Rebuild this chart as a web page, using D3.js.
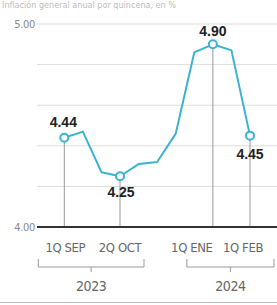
<!DOCTYPE html>
<html lang="es">
<head>
<meta charset="UTF-8">
<title>Inflación quincenal</title>
<style>
    body { margin: 0; background: #fff; }
    svg { display: block; }
    .narrow { font-family: "Liberation Sans Narrow", "DejaVu Sans Condensed", sans-serif; }
    .valor { font-family: "Liberation Sans", Arial, sans-serif; font-weight: bold; font-size: 14px; fill: #222; }
</style>
<script src="https://d3js.org/d3.v7.min.js"></script>
</head>
<body>
<div id="chart"></div>
<script>
// quincenas (sep 2023 - feb 2024)
const categories = ["1Q SEP", "2Q SEP", "1Q OCT", "2Q OCT", "1Q NOV", "2Q NOV",
                    "1Q DIC", "2Q DIC", "1Q ENE", "2Q ENE", "1Q FEB"];
const values = [4.44, 4.47, 4.27, 4.25, 4.31, 4.32, 4.46, 4.86, 4.90, 4.87, 4.45];
const yTicks = [4.0, 4.2, 4.4, 4.6, 4.8, 5.0];
const yLabels = ["4.00", "5.00"];
const highlighted = ["1Q SEP", "2Q OCT", "1Q ENE", "1Q FEB"];
const years = [
    { label: "2023", from: "1Q SEP", to: "2Q OCT" },
    { label: "2024", from: "1Q ENE", to: "1Q FEB" }
];

const width = 277, height = 305;
const svg = d3.select("#chart").append("svg")
    .attr("width", width)
    .attr("height", height);

const x = d3.scalePoint().domain(categories).range([64.3, 250]);
const y = d3.scaleLinear().domain([4, 5]).range([227, 24]);

// titulo (en el original queda cortado arriba)
svg.append("text")
    .attr("x", 2).attr("y", 8)
    .attr("class", "narrow")
    .attr("font-size", 9)
    .attr("fill", "#bbb")
    .text("Inflación general anual por quincena, en %");

// rejilla
svg.selectAll(".grid")
    .data(yTicks.filter(d => d > 4))
    .enter().append("line")
    .attr("x1", 37).attr("x2", width)
    .attr("y1", d => y(d)).attr("y2", d => y(d))
    .attr("stroke", "#ddd")
    .attr("stroke-width", 1);

svg.selectAll(".ylab")
    .data(yLabels)
    .enter().append("text")
    .attr("class", "narrow")
    .attr("x", 35)
    .attr("y", d => y(+d))
    .attr("dy", "0.35em")
    .attr("text-anchor", "end")
    .attr("font-size", 11)
    .attr("letter-spacing", -0.3)
    .attr("fill", "#888")
    .text(d => d);

// lineas verticales de los puntos marcados
svg.selectAll(".drop")
    .data(highlighted)
    .enter().append("line")
    .attr("x1", d => x(d)).attr("x2", d => x(d))
    .attr("y1", d => y(values[categories.indexOf(d)]))
    .attr("y2", y(4))
    .attr("stroke", "#999")
    .attr("stroke-width", 1);

// linea base
svg.append("line")
    .attr("x1", 37).attr("x2", width)
    .attr("y1", y(4)).attr("y2", y(4))
    .attr("stroke", "#333")
    .attr("stroke-width", 2);

// serie
const line = d3.line()
    .x((d, i) => x(categories[i]))
    .y(d => y(d));

svg.append("path")
    .datum(values)
    .attr("d", line)
    .attr("fill", "none")
    .attr("stroke", "#3ab3cf")
    .attr("stroke-width", 2)
    .attr("stroke-linejoin", "round");

svg.selectAll(".punto")
    .data(highlighted)
    .enter().append("circle")
    .attr("cx", d => x(d))
    .attr("cy", d => y(values[categories.indexOf(d)]))
    .attr("r", 4)
    .attr("fill", "#fff")
    .attr("stroke", "#3ab3cf")
    .attr("stroke-width", 2);

// etiquetas de valor (arriba o abajo del punto)
const labelDy = { "1Q SEP": -11, "2Q OCT": 21, "1Q ENE": -8, "1Q FEB": 23 };
const labelDx = { "1Q SEP": -1, "2Q OCT": 1, "1Q ENE": 0, "1Q FEB": 0 };
svg.selectAll(".valor")
    .data(highlighted)
    .enter().append("text")
    .attr("class", "valor")
    .attr("x", d => x(d) + labelDx[d])
    .attr("y", d => y(values[categories.indexOf(d)]) + labelDy[d])
    .attr("text-anchor", "middle")
    .text(d => values[categories.indexOf(d)].toFixed(2));

// etiquetas del eje x
const tickDx = { "1Q SEP": 1, "2Q OCT": 0, "1Q ENE": -21, "1Q FEB": -7 };
svg.selectAll(".xlab")
    .data(highlighted)
    .enter().append("text")
    .attr("class", "narrow")
    .attr("x", d => x(d) + tickDx[d])
    .attr("y", 252)
    .attr("text-anchor", "middle")
    .attr("font-size", 13)
    .attr("letter-spacing", -0.4)
    .attr("fill", "#666")
    .text(d => d);

// corchetes de años
years.forEach(yr => {
    const x0 = x(yr.from) - 26, x1 = x(yr.to) + 24;
    const xm = (x0 + x1) / 2;
    const g = svg.append("g").attr("stroke", "#999").attr("fill", "none");
    g.append("path")
        .attr("d", `M${x0},259V267H${x1}V259M${xm},267V272`);
    svg.append("text")
        .attr("class", "narrow")
        .attr("x", xm)
        .attr("y", 291)
        .attr("text-anchor", "middle")
        .attr("font-size", 14)
        .attr("letter-spacing", -0.4)
        .attr("fill", "#666")
        .text(yr.label);
});

// linea inferior
svg.append("line")
    .attr("x1", 0).attr("x2", width)
    .attr("y1", 302.5).attr("y2", 302.5)
    .attr("stroke", "#bbb");
</script>
</body>
</html>
